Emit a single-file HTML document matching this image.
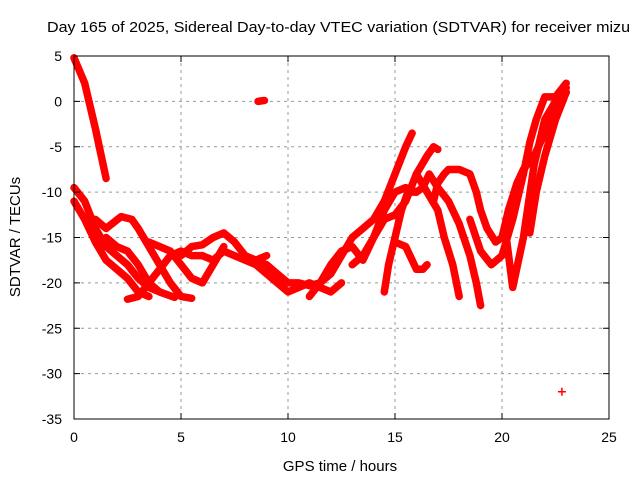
<!DOCTYPE html>
<html><head><meta charset="utf-8"><style>
body{margin:0;background:#fff}
svg{display:block;font-family:"Liberation Sans",sans-serif}
</style></head><body>
<svg width="640" height="480">
<text x="47" y="32" font-size="15" textLength="583" lengthAdjust="spacingAndGlyphs">Day 165 of 2025, Sidereal Day-to-day VTEC variation (SDTVAR) for receiver mizu</text>
<g id="grid"></g>
<g id="marks"></g>
<rect x="74" y="56" width="535" height="363" fill="none" stroke="#000"/>
<g id="ticks"></g>
<text x="340" y="471" text-anchor="middle" font-size="15">GPS time / hours</text>
<text transform="translate(20,237) rotate(-90)" text-anchor="middle" font-size="15">SDTVAR / TECUs</text>
</svg>
<script>
const xTicks=[0,5,10,15,20,25];
const yTicks=[5,0,-5,-10,-15,-20,-25,-30,-35];
const trackA=[[0,4.8],[0.5,2],[1.0,-3],[1.5,-8.5]];
const trackB=[[0,-9.5],[0.5,-11],[1,-14],[1.5,-16],[2,-17],[2.5,-18],[3,-19.5],[3.5,-20.5],[4,-21],[4.7,-21.6]];
const trackC=[[0,-11],[0.5,-13],[1,-15.5],[1.5,-17.5],[2,-18.5],[2.5,-19.5],[3,-21],[3.5,-21.5]];
const trackD=[[2.5,-21.8],[3,-21.5],[3.5,-20],[4,-18.5],[4.5,-17],[5,-16.5],[5.5,-17],[6,-17]];
const trackE=[[1,-13],[1.5,-14],[2.2,-12.7],[2.7,-13],[3,-14],[3.5,-16],[4,-18],[4.5,-20],[5,-21.5],[5.5,-21.7]];
const trackF=[[1.5,-15],[2,-16],[2.5,-16.5],[3,-18],[3.5,-20],[4,-21]];
const trackG=[[3.5,-15.5],[4.5,-16.5],[5,-18],[5.5,-19.5],[6,-20],[6.5,-18],[7,-16]];
const trackH=[[5,-17],[5.5,-16],[6,-15.8],[6.5,-15],[7,-14.5],[7.5,-15.5],[8,-17],[8.5,-17.5],[9,-17]];
const trackI=[[6,-17],[6.5,-17.5],[7,-16.5],[7.5,-17],[8,-17.5],[8.5,-18],[9,-19],[9.5,-20],[10,-21],[10.5,-20.5],[11,-20],[11.5,-20.5],[12,-21],[12.5,-20]];
const trackJ=[[8.5,-17.5],[9,-18],[9.5,-19],[10,-20],[10.5,-20],[11,-20.3],[11.5,-20],[12,-19],[12.5,-17],[13,-15],[13.5,-14],[14,-13],[14.5,-11],[15,-8],[15.5,-5],[15.8,-3.5]];
const trackK=[[11,-21.5],[11.5,-20],[12,-18],[12.5,-16.5],[13,-16],[13.5,-17.5],[14,-15],[14.5,-12],[15,-10],[15.5,-9.5],[16,-10]];
const trackL=[[14.5,-21],[14.7,-18],[15,-15],[15.3,-12],[15.6,-10],[16,-10],[16.3,-9.5],[16.6,-8],[17,-9.5],[17.5,-11],[18,-13.5],[18.5,-17],[18.8,-20],[19,-22.5]];
const trackM=[[13,-18],[13.5,-17],[14,-15],[14.5,-13],[15,-12.5],[15.5,-11],[16,-8],[16.5,-6],[16.8,-5],[17,-5.3]];
const trackN=[[15,-15.5],[15.5,-16],[15.8,-17.5],[16,-18.5],[16.3,-18.5],[16.5,-18]];
const trackO=[[16,-8],[16.5,-10],[17,-12],[17.3,-15],[17.7,-18],[18,-21.5]];
const trackP=[[16.8,-11],[17,-9],[17.3,-8],[17.5,-7.5],[18,-7.5],[18.5,-8],[18.8,-10],[19,-12],[19.3,-14],[19.7,-15.5],[20,-15],[20.3,-12],[20.7,-9],[21,-7.5],[21.5,-6],[22,-3.5],[22.5,-1],[23,1.5]];
const trackQ=[[18.5,-13],[19,-16.5],[19.5,-18],[20,-17],[20.5,-13],[21,-8],[21.3,-4.5],[21.6,-2],[22,0.5],[22.5,0.5],[23,2]];
const trackR=[[20.2,-15],[20.5,-20.5],[21,-15],[21.5,-7],[22,-2],[22.5,0],[23,1]];
const trackS=[[21.3,-14.5],[21.6,-10],[22,-6],[22.5,-2],[23,1]];
const blob=[[8.6,0],[8.9,0.1]];
const tracks=[trackA,trackB,trackC,trackD,trackE,trackF,trackG,trackH,trackI,trackJ,trackK,trackL,trackM,trackN,trackO,trackP,trackQ,trackR,trackS,blob];
const outliers=[[22.8,-32]];
const NS="http://www.w3.org/2000/svg";
const X=v=>74+v*535/25, Y=v=>56+(5-v)*363/40;
const grid=document.getElementById('grid'),ticks=document.getElementById('ticks'),marks=document.getElementById('marks');
function mk(tag,attrs,parent){const e=document.createElementNS(NS,tag);for(const k in attrs)e.setAttribute(k,attrs[k]);parent.appendChild(e);return e;}
xTicks.forEach(t=>{
 if(t>0&&t<25){const g=mk('line',{x1:X(t),x2:X(t),y1:56,y2:419,stroke:'#999','stroke-dasharray':'3,4'},grid);
 
 }
 const l=mk('text',{x:X(t),y:442,'text-anchor':'middle','font-size':14},ticks);l.textContent=t;
 
 
 mk('line',{x1:X(t),x2:X(t),y1:419,y2:413,stroke:'#000'},ticks);
 mk('line',{x1:X(t),x2:X(t),y1:56,y2:62,stroke:'#000'},ticks);
});
yTicks.forEach(t=>{
 if(t<5&&t>-35){const g=mk('line',{x1:74,x2:609,y1:Y(t),y2:Y(t),stroke:'#999','stroke-dasharray':'3,4'},grid);
 
 }
 const l=mk('text',{x:62,y:Y(t)+5,'text-anchor':'end','font-size':14},ticks);l.textContent=t;
 
 
 mk('line',{x1:74,x2:80,y1:Y(t),y2:Y(t),stroke:'#000'},ticks);
 mk('line',{x1:609,x2:603,y1:Y(t),y2:Y(t),stroke:'#000'},ticks);
});
tracks.forEach(tr=>{
 const p=mk('polyline',{points:tr.map(d=>X(d[0])+','+Y(d[1])).join(' '),fill:'none',stroke:'#f00','stroke-width':7.5,'stroke-linejoin':'round','stroke-linecap':'round'},marks);
 
 
});
outliers.forEach(d=>{
 const p=mk('path',{d:`M${X(d[0])-4},${Y(d[1])}h8M${X(d[0])},${Y(d[1])-4}v8`,stroke:'#f00','stroke-width':1.5},marks);
 
 
});
</script>
</body></html>
